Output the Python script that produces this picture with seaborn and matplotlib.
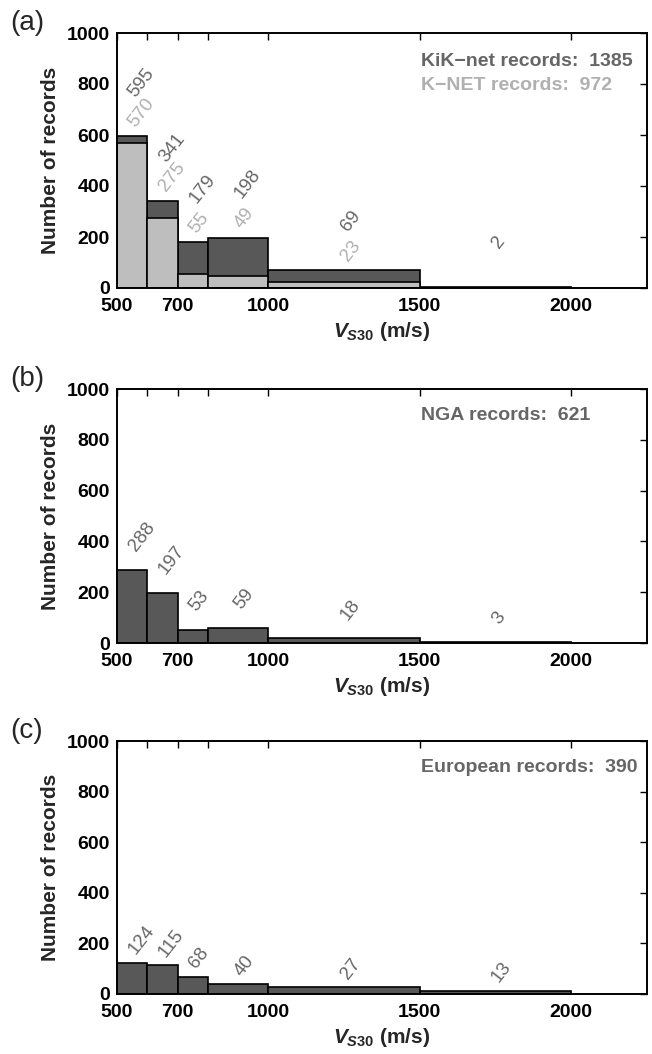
import numpy as np
import pandas as pd
import matplotlib
matplotlib.use("Agg")
import matplotlib.pyplot as plt
import seaborn as sns

# V_S30 bin edges (m/s) and record counts per bin
bin_edges = [500, 600, 700, 800, 1000, 1500, 2000]
kiknet_counts = [595, 341, 179, 198, 69, 2]
knet_counts = [570, 275, 55, 49, 23, 0]
nga_counts = [288, 197, 53, 59, 18, 3]
euro_counts = [124, 115, 68, 40, 27, 13]

kiknet_total = 1385
knet_total = 972
nga_total = 621
euro_total = 390

x_ticks = [500, 600, 700, 800, 1000, 1500, 2000]
x_ticklabels = ["500", "", "700", "", "1000", "1500", "2000"]
y_ticks = [0, 200, 400, 600, 800, 1000]

sns.set_theme(style="white")
plt.rcParams["font.family"] = ["Liberation Sans", "DejaVu Sans"]
plt.rcParams["mathtext.fontset"] = "custom"
plt.rcParams["mathtext.it"] = "Liberation Sans:italic:bold"
plt.rcParams["mathtext.rm"] = "Liberation Sans:bold"
plt.rcParams["mathtext.bf"] = "Liberation Sans:bold"

DARK = "#585858"
LIGHT = "#bebebe"
DARK_TXT = "#666666"
LIGHT_TXT = "#b0b0b0"

fig = plt.figure(figsize=(6.52, 10.54), dpi=100)

W, H = 652.0, 1054.0
left_px, right_px = 117, 647
panels_px = [(33, 288), (389, 643), (741, 994)]


def make_axes(top, bottom):
    return fig.add_axes([left_px / W, 1 - bottom / H,
                         (right_px - left_px) / W, (bottom - top) / H])


def hist_layer(ax, counts, color):
    edges = np.array(bin_edges, dtype=float)
    centers = (edges[:-1] + edges[1:]) / 2
    df = pd.DataFrame({"vs30": centers, "n": counts})
    sns.histplot(data=df, x="vs30", weights="n", bins=bin_edges, ax=ax,
                 color=color, edgecolor="black", linewidth=1.2, alpha=1.0)
    return centers


def count_labels(ax, centers, counts, offsets, color):
    for c, n, y in zip(centers, counts, offsets):
        ax.text(c, y, str(n), rotation=52, rotation_mode="anchor",
                ha="left", va="center", fontsize=13.5, color=color,
                clip_on=False)


def style_axes(ax, letter, top_px):
    ax.set_xlim(500, 2250)
    ax.set_ylim(0, 1000)
    ax.set_xticks(x_ticks)
    ax.set_xticklabels(x_ticklabels)
    ax.set_yticks(y_ticks)
    ax.tick_params(direction="in", length=5, width=1.0, top=True, right=True,
                   labelsize=14, colors="black")
    ax.tick_params(axis="x", pad=7)
    ax.tick_params(axis="y", pad=5)
    for lab in ax.get_xticklabels() + ax.get_yticklabels():
        lab.set_fontweight("bold")
    for s in ax.spines.values():
        s.set_color("black")
        s.set_linewidth(1.4)
    ax.set_xlabel(r"$V_{S30}$ (m/s)", fontsize=15, fontweight="bold",
                  labelpad=4)
    ax.set_ylabel("Number of records", fontsize=15, fontweight="bold",
                  labelpad=5)
    ax.grid(False)
    fig.text(10 / W, 1 - (top_px - 10) / H, letter, fontsize=20,
             ha="left", va="center")


# (a) KiK-net and K-NET
ax = make_axes(*panels_px[0])
centers = hist_layer(ax, kiknet_counts, DARK)
hist_layer(ax, knet_counts, LIGHT)
count_labels(ax, centers, kiknet_counts,
             [n + 160 for n in kiknet_counts], DARK_TXT)
count_labels(ax, centers[:5], knet_counts[:5],
             [n + 45 for n in kiknet_counts[:5]], LIGHT_TXT)
ax.text(1505, 890, f"KiK\u2212net records:  {kiknet_total}", fontsize=14,
        fontweight="bold", color=DARK_TXT, ha="left", va="center")
ax.text(1505, 796, f"K\u2212NET records:  {knet_total}", fontsize=14,
        fontweight="bold", color=LIGHT_TXT, ha="left", va="center")
style_axes(ax, "(a)", panels_px[0][0])

# (b) NGA
ax = make_axes(*panels_px[1])
centers = hist_layer(ax, nga_counts, DARK)
count_labels(ax, centers, nga_counts, [n + 80 for n in nga_counts], DARK_TXT)
ax.text(1505, 895, f"NGA records:  {nga_total}", fontsize=14,
        fontweight="bold", color=DARK_TXT, ha="left", va="center")
style_axes(ax, "(b)", panels_px[1][0])

# (c) European
ax = make_axes(*panels_px[2])
centers = hist_layer(ax, euro_counts, DARK)
count_labels(ax, centers, euro_counts, [n + 40 for n in euro_counts], DARK_TXT)
ax.text(1505, 895, f"European records:  {euro_total}", fontsize=14,
        fontweight="bold", color=DARK_TXT, ha="left", va="center")
style_axes(ax, "(c)", panels_px[2][0])

fig.savefig("out.png", dpi=100)
